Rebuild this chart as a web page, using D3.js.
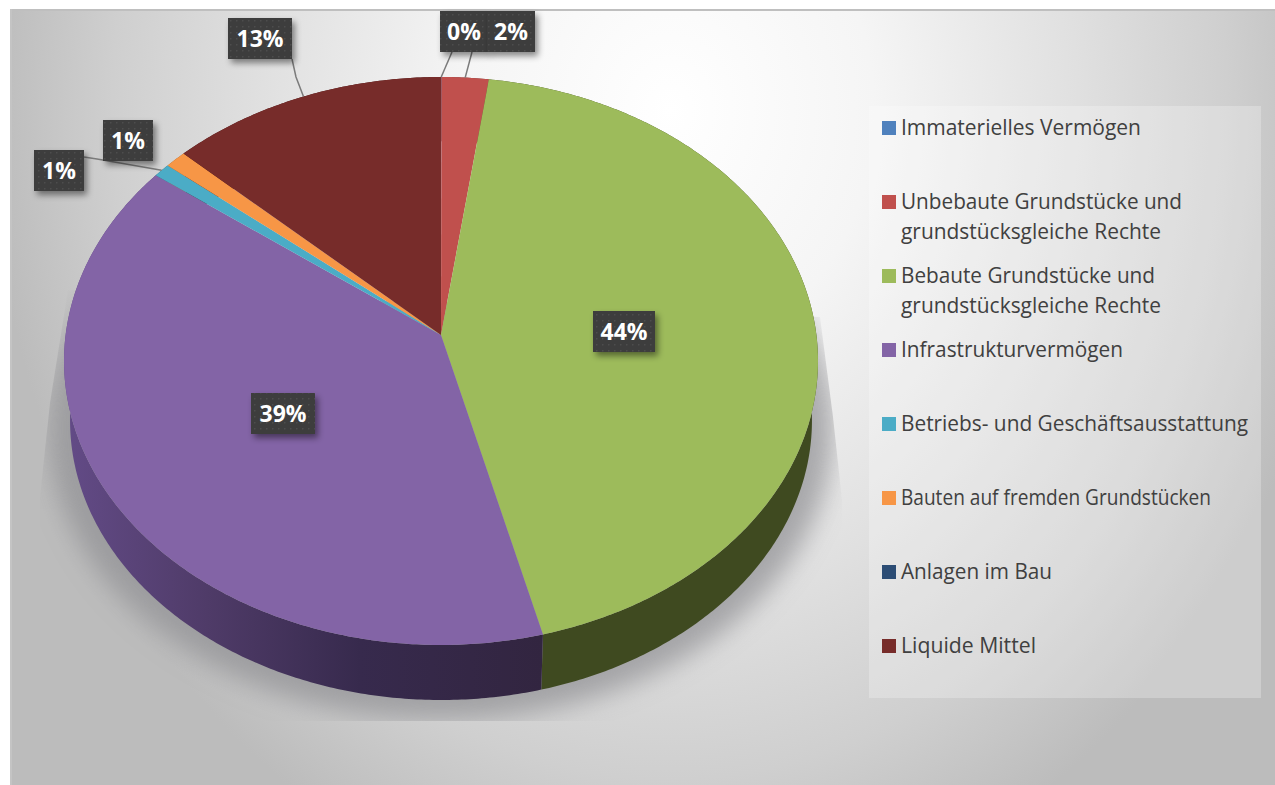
<!DOCTYPE html>
<html>
<head>
<meta charset="utf-8">
<script src="https://cdn.jsdelivr.net/npm/d3@7"></script>
<style>
    html, body { margin:0; padding:0; background:#fff; overflow:hidden; }
    svg { display:block; }
    .legend-text { font-family:"Open Sans", sans-serif; font-size:21px; fill:#404040; }
    .pct { font-family:"Open Sans", sans-serif; font-size:23px; font-weight:700; fill:#fff; text-anchor:middle; }
</style>
</head>
<body>
<script>
// values, in percent, clockwise from 12 o'clock
let categories = [
    'Immaterielles Vermögen',
    'Unbebaute Grundstücke und grundstücksgleiche Rechte',
    'Bebaute Grundstücke und grundstücksgleiche Rechte',
    'Infrastrukturvermögen',
    'Betriebs- und Geschäftsausstattung',
    'Bauten auf fremden Grundstücken',
    'Anlagen im Bau',
    'Liquide Mittel'
]
let values = [0.02, 2.2, 43.8, 39.18, 0.8, 1.0, 0.0, 13.0]
let legendLines = [
    ['Immaterielles Vermögen'],
    ['Unbebaute Grundstücke und', 'grundstücksgleiche Rechte'],
    ['Bebaute Grundstücke und', 'grundstücksgleiche Rechte'],
    ['Infrastrukturvermögen'],
    ['Betriebs- und Geschäftsausstattung'],
    ['Bauten auf fremden Grundstücken'],
    ['Anlagen im Bau'],
    ['Liquide Mittel']
]
// measured text widths of the legend lines in the picture
let legendWidths = [[240], [281, 260], [254, 260], [222], [347], [310], [151], [135]]
let colors = ['#4f81bd', '#c0504d', '#9dbb5b', '#8364a6', '#4bacc6', '#f79646', '#2c4d75', '#772c2a']
let wallColors = ['#2f4d71', '#73302e', '#3f4a20', '#4a3a66', '#2d6776', '#94592a', '#1a2e46', '#471a19']

// label boxes, same order as categories (Anlagen im Bau has no label)
let labelBoxes = [
    {x:440, y:11, w:48, h:41, leader:[[452, 52]]},
    {x:487, y:11, w:48, h:41, leader:[[472, 52]]},
    {x:593, y:311, w:62, h:41, leader:null},
    {x:251, y:393, w:64, h:41, leader:null},
    {x:34, y:150, w:50, h:41, leader:[[84, 157], [97, 159]]},
    {x:103, y:120, w:50, h:41, leader:null},
    null,
    {x:228, y:18, w:64, h:41, leader:[[292, 59], [296, 77]]}
]

let svgWidth = 1275
let svgHeight = 785

let svg = d3.select('body').append('svg')
            .attr('width', svgWidth)
            .attr('height', svgHeight)
let defs = svg.append('defs')

// background
let bg = defs.append('radialGradient')
            .attr('id', 'bg')
            .attr('gradientUnits', 'userSpaceOnUse')
            .attr('cx', 0).attr('cy', 0).attr('r', 680)
            .attr('gradientTransform', 'translate(670,110) scale(1,1.2)')
bg.selectAll('stop')
    .data([[0, '#ffffff'], [0.3, '#f5f5f5'], [0.6, '#e0e0e0'], [0.82, '#cfcfcf'], [1, '#bcbcbc']])
    .join('stop')
    .attr('offset', d => d[0])
    .attr('stop-color', d => d[1])

svg.append('rect')
    .attr('x', 10).attr('y', 9)
    .attr('width', svgWidth-10).attr('height', svgHeight-9)
    .attr('fill', 'url(#bg)')
svg.append('rect').attr('x', 10).attr('y', 9).attr('width', svgWidth-10).attr('height', 2).attr('fill', '#bfbfbf')
svg.append('rect').attr('x', 10).attr('y', 9).attr('width', 2).attr('height', svgHeight-9).attr('fill', '#c4c4c4')

// the pie lies in perspective: a circle mapped so the centre sits above the ellipse centre
let cx = 441, cy = 335
let a = 375.4, b = 281.6, k = 0.0915
let depthScale = 0.984, depthShift = 60

let project = (angle, s, dy) => {
    let u = Math.sin(angle)
    let v = -Math.cos(angle)
    let w = 1-k*v
    return [cx+s*a*u/w, cy+s*b*v/w+dy]
}

let pie = d3.pie().value(d => d).sort(null)
let arcs = pie(values)

let sample = (start, end) => {
    let n = Math.max(2, Math.ceil((end-start)/0.01))
    return d3.range(n+1).map(i => start+(end-start)*i/n)
}
let line = d3.line()

// soft floor shadow, cut off by the plot's trapezoid like the original
defs.append('filter').attr('id', 'floorBlur')
    .attr('x', '-10%').attr('y', '-10%').attr('width', '120%').attr('height', '120%')
    .append('feGaussianBlur').attr('stdDeviation', 13)
defs.append('clipPath').attr('id', 'floorClip')
    .append('polygon')
    .attr('points', '68,290 50,403 40,497 40,721 842,721 842,500 833,417 820,317')
svg.append('g').attr('clip-path', 'url(#floorClip)')
    .append('ellipse')
    .attr('cx', 441).attr('cy', 428)
    .attr('rx', 392).attr('ry', 292)
    .attr('fill', '#8f8f93')
    .attr('opacity', 0.72)
    .attr('filter', 'url(#floorBlur)')

// side wall, darker towards the front for the purple slice
let wallGrad = defs.append('linearGradient')
                .attr('id', 'purpleWall')
                .attr('gradientUnits', 'userSpaceOnUse')
                .attr('x1', 64).attr('x2', 542).attr('y1', 0).attr('y2', 0)
wallGrad.selectAll('stop')
    .data([[0, '#634b87'], [0.3, '#4f3b68'], [0.62, '#372a4d'], [1, '#322540']])
    .join('stop')
    .attr('offset', d => d[0])
    .attr('stop-color', d => d[1])

svg.append('g').selectAll('path')
    .data(arcs)
    .join('path')
    .attr('d', d => {
        let angles = sample(d.startAngle, d.endAngle)
        let top = angles.map(t => project(t, 1, 0))
        let bottom = angles.map(t => project(t, depthScale, depthShift)).reverse()
        return line(top.concat(bottom))+'Z'
    })
    .attr('fill', (d, i) => i == 3 ? 'url(#purpleWall)' : wallColors[i])

// top surface
svg.append('g').selectAll('path')
    .data(arcs)
    .join('path')
    .attr('d', d => {
        let rim = sample(d.startAngle, d.endAngle).map(t => project(t, 1, 0))
        return line([[cx, cy]].concat(rim))+'Z'
    })
    .attr('fill', (d, i) => colors[i])

// legend
svg.append('rect')
    .attr('x', 869).attr('y', 106)
    .attr('width', 392).attr('height', 592)
    .attr('fill', '#fff')
    .attr('opacity', 0.25)

let legendY = d3.scalePoint()
                .domain(categories)
                .range([128, 646])

let legend = svg.append('g').selectAll('g')
                .data(categories)
                .join('g')
                .attr('transform', d => 'translate(882,'+legendY(d)+')')
legend.append('rect')
    .attr('y', -7)
    .attr('width', 14).attr('height', 14)
    .attr('fill', (d, i) => colors[i])
legend.each(function(d, i) {
    d3.select(this).selectAll('text')
        .data(legendLines[i])
        .join('text')
        .classed('legend-text', true)
        .attr('x', 19)
        .attr('y', (t, j) => 7+j*29.5)
        .attr('textLength', (t, j) => legendWidths[i][j])
        .attr('lengthAdjust', 'spacingAndGlyphs')
        .text(t => t)
})

// leader lines end on the rim at the slice's middle angle
let labelled = arcs.map((d, i) => ({arc:d, box:labelBoxes[i]})).filter(d => d.box)

svg.append('g').selectAll('path')
    .data(labelled.filter(d => d.box.leader))
    .join('path')
    .attr('d', d => {
        let rim = project((d.arc.startAngle+d.arc.endAngle)/2, 1, 0)
        return line(d.box.leader.concat([rim]))
    })
    .attr('fill', 'none')
    .attr('stroke', '#7b7b7b')
    .attr('stroke-width', 1.5)

// data labels
let dots = defs.append('pattern')
                .attr('id', 'dots')
                .attr('patternUnits', 'userSpaceOnUse')
                .attr('width', 6).attr('height', 6)
dots.append('rect').attr('width', 6).attr('height', 6).attr('fill', '#3d3d3d')
dots.append('rect').attr('x', 2).attr('y', 2).attr('width', 1.5).attr('height', 1.5).attr('fill', '#4d4d4d')

let boxShadow = defs.append('filter').attr('id', 'boxShadow')
                    .attr('x', '-30%').attr('y', '-30%').attr('width', '160%').attr('height', '160%')
boxShadow.append('feDropShadow')
    .attr('dx', 3).attr('dy', 4)
    .attr('stdDeviation', 3)
    .attr('flood-color', '#000')
    .attr('flood-opacity', 0.45)

let pctFormat = d3.format('.0f')

let labels = svg.append('g').selectAll('g')
                .data(labelled)
                .join('g')
labels.append('rect')
    .attr('x', d => d.box.x).attr('y', d => d.box.y)
    .attr('width', d => d.box.w).attr('height', d => d.box.h)
    .attr('fill', 'url(#dots)')
    .attr('filter', 'url(#boxShadow)')
labels.append('text')
    .classed('pct', true)
    .attr('x', d => d.box.x+d.box.w/2)
    .attr('y', d => d.box.y+d.box.h/2+8)
    .text(d => pctFormat(d.arc.value)+'%')
</script>
</body>
</html>
